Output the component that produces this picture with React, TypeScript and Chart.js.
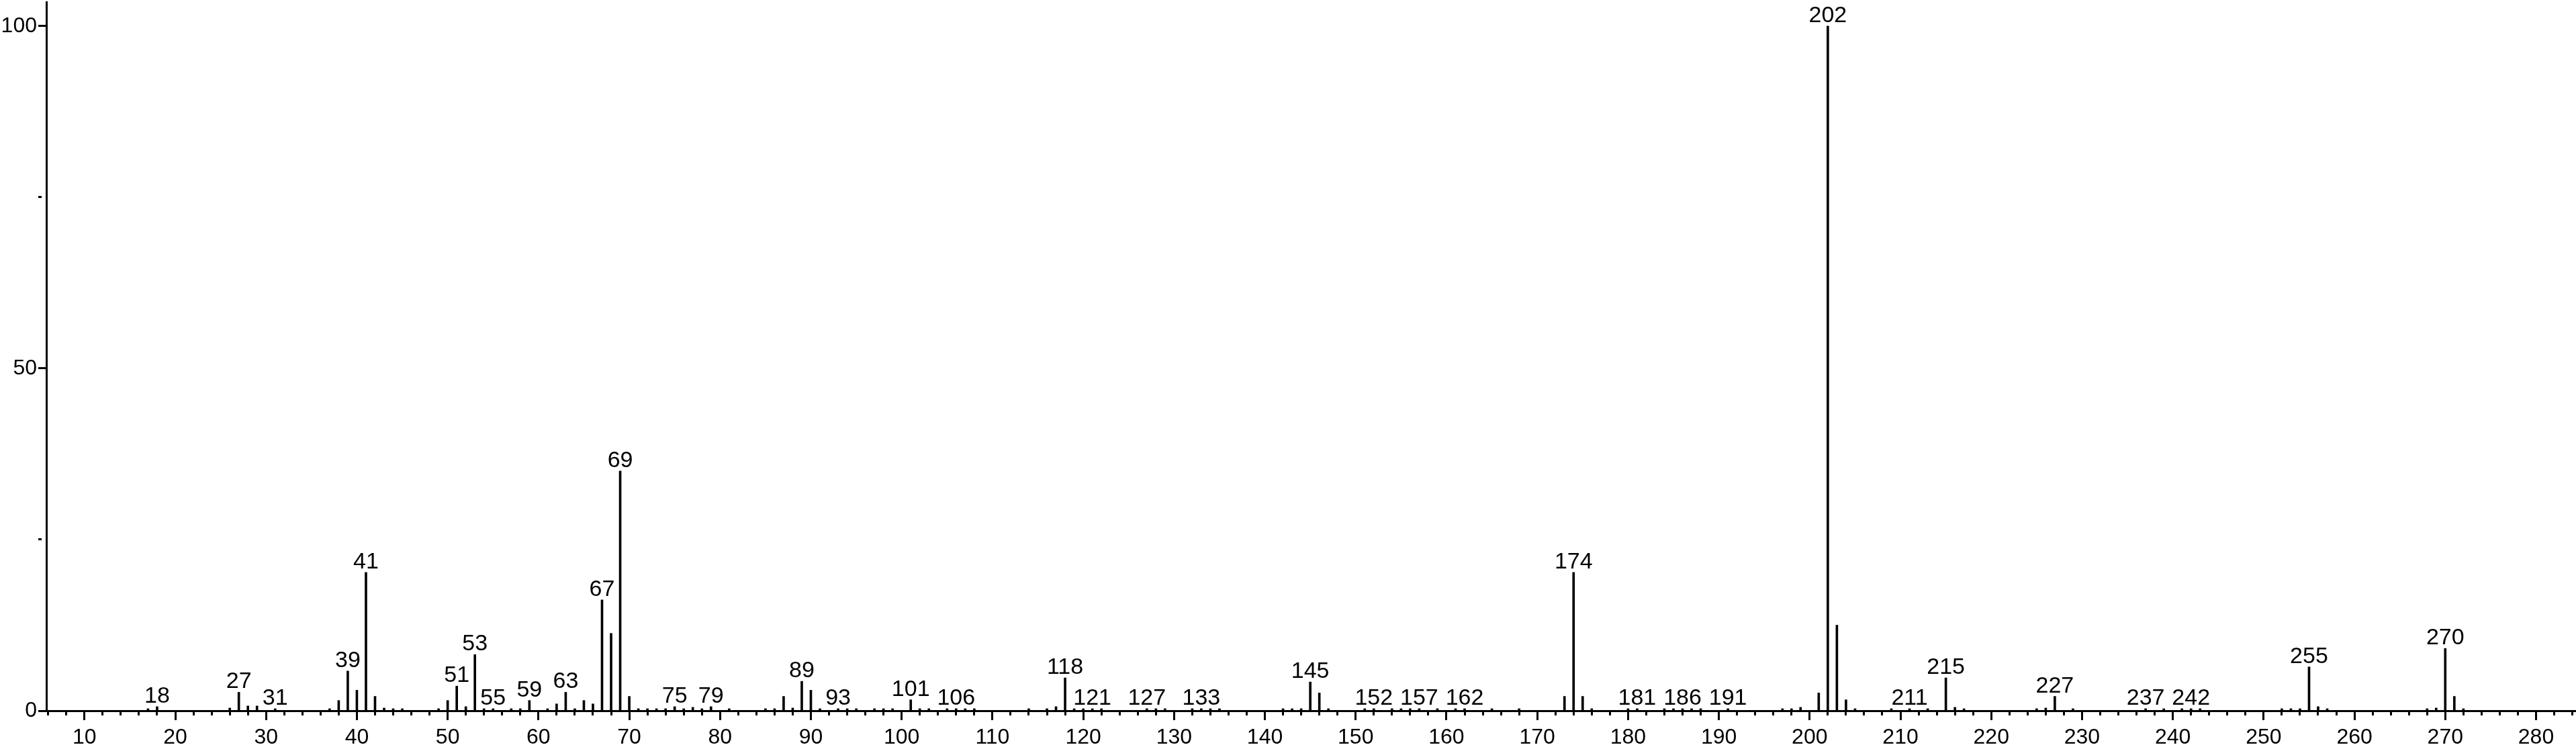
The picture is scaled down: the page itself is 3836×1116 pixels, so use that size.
import React, { useEffect, useRef } from 'react';
import { Chart, registerables } from 'chart.js';

Chart.register(...registerables);

// m/z values of the spectrum lines
const mzValues = [
  17, 18, 26, 27, 28, 29, 31, 37, 38, 39, 40, 41, 42, 43, 44, 45, 49, 50, 51, 52,
  53, 54, 55, 57, 58, 59, 61, 62, 63, 64, 65, 66, 67, 68, 69, 70, 71, 72, 73, 74,
  75, 76, 77, 78, 79, 81, 85, 86, 87, 88, 89, 90, 91, 93, 94, 95, 97, 98, 99, 101,
  102, 103, 105, 106, 107, 108, 114, 116, 117, 118, 119, 120, 121, 122, 127, 128, 129, 132, 133, 134,
  135, 142, 143, 144, 145, 146, 147, 151, 152, 154, 155, 156, 157, 159, 161, 162, 165, 168, 173, 174,
  175, 176, 180, 181, 184, 185, 186, 187, 188, 191, 197, 198, 199, 201, 202, 203, 204, 205, 209, 211,
  213, 215, 216, 217, 225, 226, 227, 229, 237, 239, 241, 242, 243, 252, 253, 254, 255, 256, 257, 268,
  269, 270, 271, 272,
];

// relative intensities (%)
const intensities = [
  0.3, 0.6, 0.4, 2.7, 0.7, 0.7, 0.3, 0.3, 1.5, 5.8, 3.0, 20.2, 2.1, 0.4, 0.3, 0.3, 0.3, 1.5, 3.6, 0.6,
  8.2, 0.3, 0.3, 0.3, 0.3, 1.5, 0.3, 1.0, 2.7, 0.3, 1.5, 1.0, 16.2, 11.3, 35.0, 2.1, 0.3, 0.3, 0.3, 0.3,
  0.6, 0.3, 0.5, 0.3, 0.6, 0.3, 0.3, 0.3, 2.1, 0.4, 4.3, 3.0, 0.3, 0.3, 0.3, 0.3, 0.3, 0.3, 0.3, 1.6,
  0.3, 0.3, 0.3, 0.3, 0.3, 0.3, 0.3, 0.3, 0.6, 4.8, 0.3, 0.3, 0.3, 0.3, 0.3, 0.3, 0.3, 0.3, 0.3, 0.3,
  0.3, 0.3, 0.3, 0.3, 4.2, 2.6, 0.3, 0.3, 0.3, 0.3, 0.3, 0.3, 0.3, 0.3, 0.3, 0.3, 0.3, 0.3, 2.1, 20.2,
  2.1, 0.3, 0.3, 0.3, 0.3, 0.3, 0.3, 0.3, 0.3, 0.3, 0.3, 0.3, 0.5, 2.6, 100, 12.5, 1.6, 0.3, 0.3, 0.3,
  0.3, 4.8, 0.5, 0.3, 0.3, 0.4, 2.1, 0.3, 0.3, 0.3, 0.3, 0.3, 0.3, 0.3, 0.3, 0.3, 6.4, 0.6, 0.3, 0.3,
  0.4, 9.1, 2.1, 0.3,
];

// lines that carry an m/z annotation
const labeledMz = [
  18, 27, 31, 39, 41, 51, 53, 55, 59, 63, 67, 69, 75, 79, 89, 93, 101, 106, 118, 121,
  127, 133, 145, 152, 157, 162, 174, 181, 186, 191, 202, 211, 215, 227, 237, 242, 255, 270,
];

// axis ticks
const xMajorTicks = [10, 20, 30, 40, 50, 60, 70, 80, 90, 100, 110, 120, 130, 140, 150, 160, 170, 180, 190, 200, 210, 220, 230, 240, 250, 260, 270, 280];
const xMinorStep = 2;
const xMin = 5.8;
const xMax = 284.4;
const yTickValues = [0, 25, 50, 75, 100];
const yLabeledTicks = [0, 50, 100];
const yMax = 103.5;

const FONT = '"Liberation Sans", Arial, Helvetica, sans-serif';

export default function App() {
  const ref = useRef<HTMLCanvasElement>(null);

  useEffect(() => {
    if (!ref.current) return;

    const xTickValues: number[] = [];
    for (let v = Math.ceil(xMin / xMinorStep) * xMinorStep; v <= xMax; v += xMinorStep) xTickValues.push(v);

    const labelPlugin = {
      id: 'peakLabels',
      afterDatasetsDraw(chart: any) {
        const { ctx, scales } = chart;
        const x = scales.x;
        const y = scales.y;
        ctx.save();
        ctx.font = `34px ${FONT}`;
        ctx.fillStyle = '#000';
        ctx.textAlign = 'center';
        ctx.textBaseline = 'alphabetic';
        labeledMz.forEach((m) => {
          const i = mzValues.indexOf(m);
          const v = i >= 0 ? intensities[i] : 0;
          ctx.fillText(String(m), x.getPixelForValue(m), y.getPixelForValue(v) - 6);
        });
        ctx.restore();
      },
    };

    const chart = new Chart(ref.current, {
      type: 'bar',
      data: {
        datasets: [
          {
            data: mzValues.map((m, i) => ({ x: m, y: intensities[i] })),
            backgroundColor: '#000',
            borderWidth: 0,
            barThickness: 3,
          } as any,
        ],
      },
      options: {
        responsive: false,
        animation: false,
        devicePixelRatio: 1,
        layout: { padding: { top: 3, left: 0, right: 0, bottom: 0 } },
        plugins: { legend: { display: false }, tooltip: { enabled: false } },
        scales: {
          x: {
            type: 'linear',
            min: xMin,
            max: xMax,
            offset: false,
            afterBuildTicks: (s: any) => {
              s.ticks = xTickValues.map((v) => ({ value: v }));
            },
            afterFit: (s: any) => {
              s.height = 57;
              s.paddingLeft = 0;
              s.paddingRight = 0;
            },
            grid: {
              offset: false,
              drawOnChartArea: false,
              drawTicks: true,
              tickLength: 14,
              tickWidth: 3,
              tickColor: '#000',
              tickBorderDash: (c: any) => (c.tick && !xMajorTicks.includes(c.tick.value) ? [5, 100] : []),
            },
            border: { display: true, color: '#000', width: 3 },
            ticks: {
              autoSkip: false,
              maxRotation: 0,
              minRotation: 0,
              padding: 7,
              color: '#000',
              font: { family: FONT, size: 32 },
              callback: (v: any) => (xMajorTicks.includes(Number(v)) ? String(v) : ''),
            },
          },
          y: {
            type: 'linear',
            min: 0,
            max: yMax,
            afterBuildTicks: (s: any) => {
              s.ticks = yTickValues.map((v) => ({ value: v }));
            },
            afterFit: (s: any) => {
              s.width = 69;
              s.paddingTop = 0;
              s.paddingBottom = 0;
            },
            grid: {
              drawOnChartArea: false,
              drawTicks: true,
              tickLength: 12,
              tickWidth: 3,
              tickColor: '#000',
              tickBorderDash: (c: any) => (c.tick && !yLabeledTicks.includes(c.tick.value) ? [5, 100] : []),
            },
            border: { display: true, color: '#000', width: 3 },
            ticks: {
              autoSkip: false,
              padding: 2,
              color: '#000',
              font: { family: FONT, size: 32 },
              callback: (v: any) => (yLabeledTicks.includes(Number(v)) ? String(v) : ''),
            },
          },
        },
      } as any,
      plugins: [labelPlugin],
    });

    return () => chart.destroy();
  }, []);

  return (
    <div style={{ position: 'fixed', left: 0, top: 0, width: 3836, height: 1116, background: '#fff' }}>
      <canvas ref={ref} width={3836} height={1116} style={{ display: 'block' }} />
    </div>
  );
}
